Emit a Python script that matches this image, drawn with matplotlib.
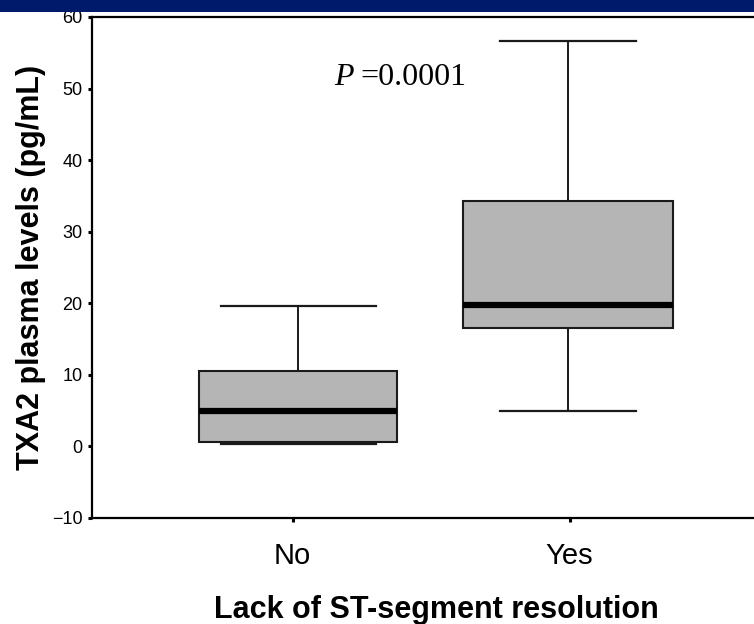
import matplotlib
matplotlib.use("Agg")
import matplotlib.pyplot as plt
from matplotlib.patches import Rectangle

# box plot summary values (pg/mL)
groups = ['No', 'Yes']
q1 = [0.55, 16.6]
medians = [4.9, 19.7]
q3 = [10.5, 34.3]
whisker_low = [0.3, 4.9]
whisker_high = [19.6, 56.6]
p_value = '=0.0001'

sans = ['Liberation Sans', 'DejaVu Sans']

fig = plt.figure(figsize=(7.54, 6.24), dpi=100)
fig.patch.set_facecolor('white')
# dark blue slide band at the very top
fig.patches.append(Rectangle((0, 1 - 12 / 624), 1, 12 / 624, transform=fig.transFigure,
                             facecolor='#001a6b', edgecolor='none', zorder=10))

ax = fig.add_axes([92 / 754, 106 / 624, 688 / 754, 501 / 624])

stats = []
for i, g in enumerate(groups):
    stats.append({'label': g, 'q1': q1[i], 'med': medians[i], 'q3': q3[i],
                  'whislo': whisker_low[i], 'whishi': whisker_high[i], 'fliers': []})

ax.bxp(stats, positions=[1.02, 1.995], widths=[0.715, 0.76], capwidths=[0.56, 0.49],
       patch_artist=True, showfliers=False,
       boxprops=dict(facecolor='#b5b5b5', edgecolor='#1a1a1a', linewidth=1.5),
       medianprops=dict(color='black', linewidth=4.5, solid_capstyle='butt'),
       whiskerprops=dict(color='#1a1a1a', linewidth=1.4),
       capprops=dict(color='#1a1a1a', linewidth=1.6))

ax.set_xlim(0.275, 2.76)
ax.set_ylim(-10, 60)
ax.set_xticks([1, 2])
ax.set_xticklabels(groups, family=sans, fontsize=21)
ax.set_yticks(range(-10, 61, 10))
ax.set_yticklabels(['\u221210'] + [str(v) for v in range(0, 61, 10)], family=sans, fontsize=13)
ax.tick_params(direction='out', length=3, width=2.2, color='black', pad=4)
ax.tick_params(axis='x', pad=14)

for side in ['left', 'top', 'bottom']:
    ax.spines[side].set_linewidth(1.6)
ax.spines['right'].set_visible(False)

ax.set_xlabel('Lack of ST-segment resolution', family=sans, fontsize=22,
              fontweight='bold', labelpad=18)
ax.set_ylabel('TXA2 plasma levels (pg/mL)', family=sans, fontsize=22,
              fontweight='bold', labelpad=4)

# P value annotation: italic P in a serif face, then the number
ax.text(1.15, 51.5, 'P', family='Liberation Serif', style='italic', fontsize=23,
        ha='left', va='center')
ax.text(1.245, 51.5, p_value, family='Liberation Serif', fontsize=23,
        ha='left', va='center')

fig.savefig('out.png', dpi=100)
